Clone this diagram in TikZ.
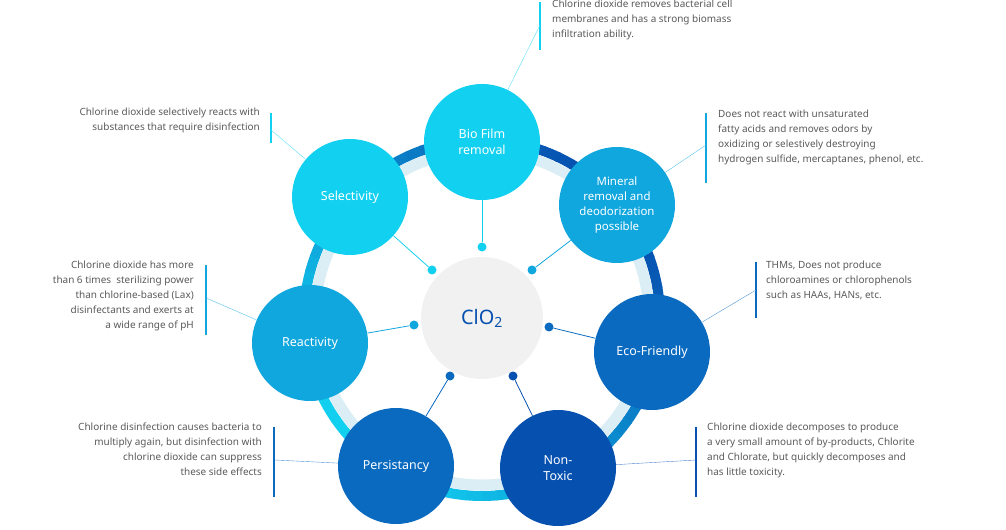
\documentclass[tikz,border=0pt]{standalone}
\usepackage{fontspec}
\setmainfont{Noto Sans}
\usepackage{xcolor}
\usetikzlibrary{positioning}
\definecolor{cyanc}{HTML}{12D0F0}
\definecolor{midc}{HTML}{10A6DE}
\definecolor{darkc}{HTML}{0A6AC0}
\definecolor{navyc}{HTML}{0650B0}
\definecolor{palec}{HTML}{DCEEF5}
\definecolor{greyt}{HTML}{5A5A5A}
\definecolor{coreg}{HTML}{F1F1F1}

\begin{document}
\begin{tikzpicture}[
        x=1bp, y=-1bp,
        topic/.style={
            circle,
            minimum size=116bp,
            inner sep=0pt,
            text=white,
            align=center,
            font=\fontsize{12.5}{16}\selectfont\bfseries
        },
        note/.style={
            text=greyt,
            inner sep=0pt,
            font=\fontsize{10}{15}\selectfont
        },
        link/.style={thick},
        lead/.style={thin, color=#1!70},
        bar/.style={line width=1.2pt, color=#1},
        dot/.style={circle, inner sep=0pt, minimum size=9bp}
    ]
        \useasboundingbox (0,0) rectangle (1006,530);

        % ring
        \foreach \a in {0,5,...,355} {
            \pgfmathsetmacro{\t}{50+50*cos(\a-135)}
            \draw[line width=10bp, color=cyanc!\t!navyc] (482,318) ++(\a:178) arc[start angle=\a, end angle=\a+5.5, radius=178];
        }
        \draw[line width=11bp, palec] (482,318) circle[radius=167];

        % centre
        \node[circle, fill=white, minimum size=140bp] (ring) at (482,318) {};
        \node[circle, fill=coreg, minimum size=122bp, text=navyc, font=\fontsize{20}{20}\selectfont] (core) at (482,318) {ClO\textsubscript{2}};

        % topics
        \node[topic, fill=cyanc] (bio) at (482,142) {Bio Film\\removal};
        \node[topic, fill=cyanc] (sel) at (350,197) {Selectivity};
        \node[topic, fill=midc, font=\fontsize{11.5}{15}\selectfont\bfseries] (min) at (617,205) {Mineral\\removal and\\deodorization\\possible};
        \node[topic, fill=midc] (rea) at (310,343) {Reactivity};
        \node[topic, fill=darkc] (eco) at (652,352) {Eco-Friendly};
        \node[topic, fill=darkc] (per) at (396,466) {Persistancy};
        \node[topic, fill=navyc] (tox) at (558,468) {Non-\\Toxic};

        % spokes
        \node[dot, fill=cyanc] (dbio) at (482,247) {};
        \node[dot, fill=cyanc] (dsel) at (432,270) {};
        \node[dot, fill=midc] (dmin) at (532,270) {};
        \node[dot, fill=midc] (drea) at (414,325) {};
        \node[dot, fill=darkc] (deco) at (549,327) {};
        \node[dot, fill=darkc] (dper) at (450,376) {};
        \node[dot, fill=navyc] (dtox) at (513,376) {};
        \draw[link, cyanc] (dbio) -- (bio);
        \draw[link, cyanc] (dsel) -- (sel);
        \draw[link, midc] (dmin) -- (min);
        \draw[link, midc] (drea) -- (rea);
        \draw[link, darkc] (deco) -- (eco);
        \draw[link, darkc] (dper) -- (per);
        \draw[link, navyc] (dtox) -- (tox);

        % notes
        \node[note, anchor=north west, align=left] (nbio) at (552,0) {Chlorine dioxide removes bacterial cell\\membranes and has a strong biomass\\infiltration ability.};
        \node[note, anchor=north east, align=right] (nsel) at (260,108) {Chlorine dioxide selectively reacts with\\substances that require disinfection};
        \node[note, anchor=north west, align=left] (nmin) at (718,110) {Does not react with unsaturated\\fatty acids and removes odors by\\oxidizing or selestively destroying\\hydrogen sulfide, mercaptanes, phenol, etc.};
        \node[note, anchor=north east, align=right] (nrea) at (194,261) {Chlorine dioxide has more\\than 6 times\ \ sterilizing power\\than chlorine-based (Lax)\\disinfectants and exerts at\\a wide range of pH};
        \node[note, anchor=north west, align=left] (neco) at (766,261) {THMs, Does not produce\\chloroamines or chlorophenols\\such as HAAs, HANs, etc.};
        \node[note, anchor=north east, align=right] (nper) at (262,423) {Chlorine disinfection causes bacteria to\\multiply again, but disinfection with\\chlorine dioxide can suppress\\these side effects};
        \node[note, anchor=north west, align=left] (ntox) at (707,423) {Chlorine dioxide decomposes to produce\\a very small amount of by-products, Chlorite\\and Chlorate, but quickly decomposes and\\has little toxicity.};

        % leaders
        \coordinate (bbio) at (540,25);
        \coordinate (bsel) at (271,130);
        \coordinate (bmin) at (706,145);
        \coordinate (brea) at (206,298);
        \coordinate (beco) at (756,290);
        \coordinate (bper) at (275,460);
        \coordinate (btox) at (696,460);
        \draw[bar=cyanc] (540,2) -- (540,50);
        \draw[bar=cyanc] (271,113) -- (271,143);
        \draw[bar=midc] (706,113) -- (706,183);
        \draw[bar=midc] (206,265) -- (206,335);
        \draw[bar=darkc] (756,262) -- (756,318);
        \draw[bar=darkc] (274,427) -- (274,497);
        \draw[bar=navyc] (696,427) -- (696,497);
        \draw[lead=cyanc] (bbio) -- (bio);
        \draw[lead=cyanc] (bsel) -- (sel);
        \draw[lead=midc] (bmin) -- (min);
        \draw[lead=midc] (brea) -- (rea);
        \draw[lead=darkc] (beco) -- (eco);
        \draw[lead=darkc] (bper) -- (per);
        \draw[lead=navyc] (btox) -- (tox);
    \end{tikzpicture}
\end{document}
